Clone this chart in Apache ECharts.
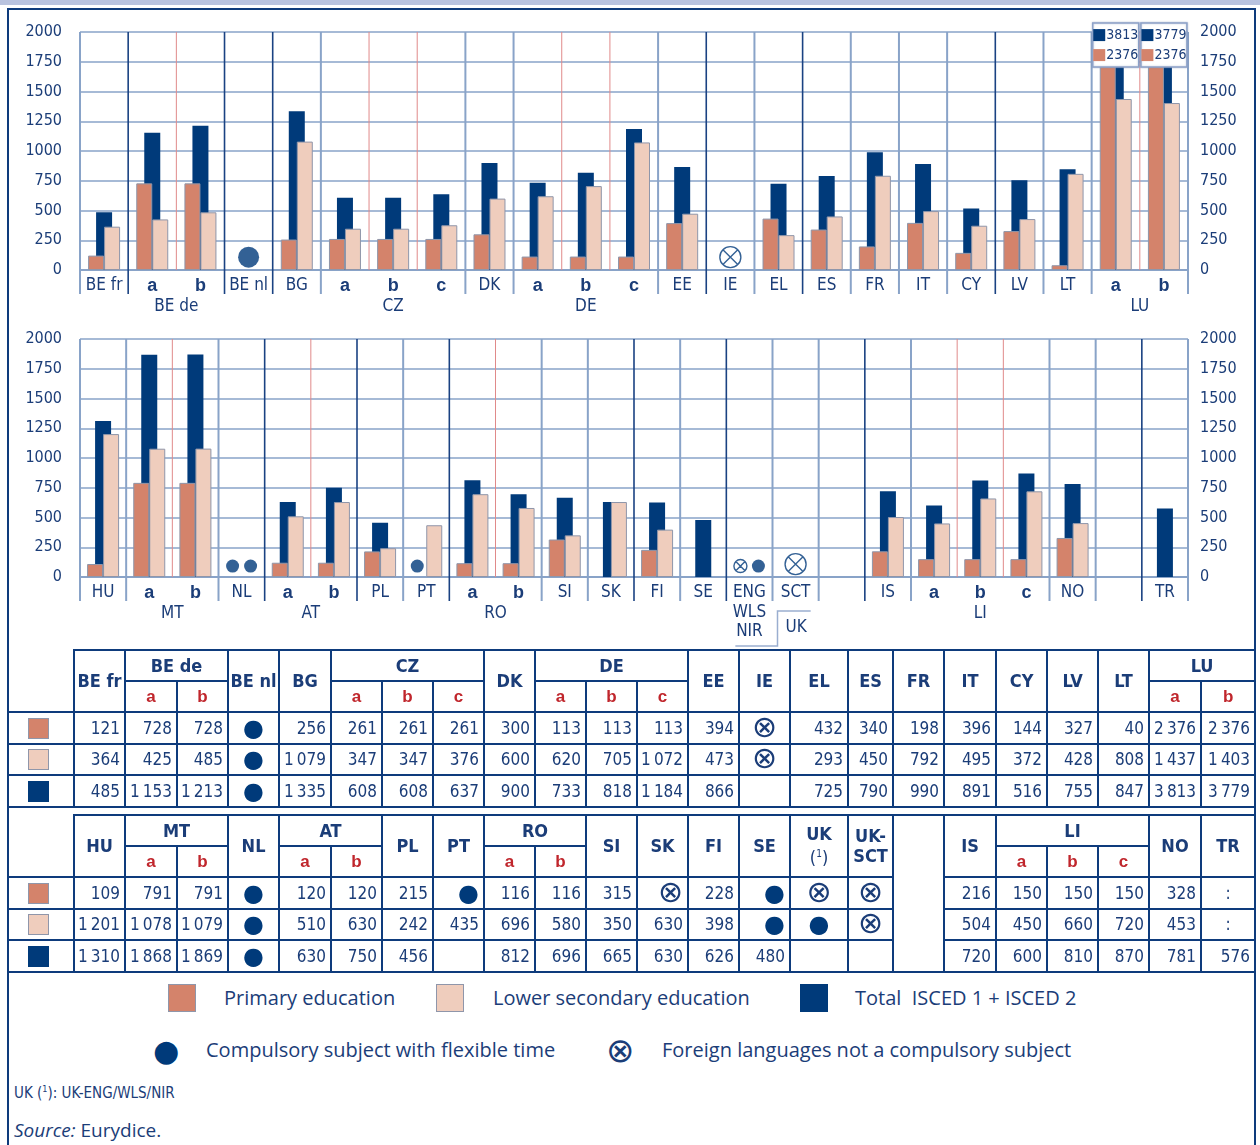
<!DOCTYPE html>
<html><head><meta charset="utf-8">
<script src="https://cdn.jsdelivr.net/npm/echarts@6/dist/echarts.min.js"></script>
<style>
html,body{margin:0;padding:0;background:#fff;}
#page{position:relative;width:1260px;height:1145px;overflow:hidden;color:#1b3d78;}
#topband{position:absolute;left:0;top:0;width:1260px;height:5px;background:#b9c3df;}
#frame{position:absolute;left:7px;top:8px;width:1245px;height:1200px;border:2px solid #0e3b7c;}
#chart{position:absolute;left:0;top:0;width:1260px;height:650px;}
table.dt{position:absolute;left:7px;border-collapse:collapse;table-layout:fixed;width:1248px;}
table.dt th,table.dt td{border:2px solid #0e3b7c;padding:0;font-family:'Liberation Sans Narrow','DejaVu Sans Condensed',sans-serif;color:#1b3d78;overflow:hidden;white-space:nowrap;}
table.dt th{font-weight:bold;font-size:18px;text-align:center;line-height:20px;}
table.dt th.sub{color:#c0262c;font-family:'Liberation Sans',sans-serif;font-size:17px;}
table.dt th.icon{border-top:none;border-left:none;}
table.dt td.icon{border-left:none;text-align:center;}
table.dt td{font-size:17px;text-align:right;padding-right:4px;}
table.dt td.c{text-align:center;padding-right:0;}
table.dt td.gap{padding:0;}
table.dt tr.h1{height:31px;} table.dt tr.h2{height:31px;} table.dt tr.d{height:31.5px;}
.fnm{font-weight:normal;}
.sq{display:inline-block;width:21px;height:21px;vertical-align:middle;box-sizing:border-box;}
.sq.p{background:#d4836b;border:1.5px solid #8f96aa;}
.sq.s{background:#efcdbd;border:1.5px solid #8f96aa;}
.sq.t{background:#003a7a;}
.dot{font-family:'DejaVu Sans',sans-serif;font-size:24px;line-height:1;color:#003a7a;vertical-align:-2px;}
.otimes{display:inline-block;font-family:'DejaVu Sans',sans-serif;font-size:30px;line-height:20px;height:22px;color:#1b3d78;font-weight:normal;vertical-align:middle;}
.lg{position:absolute;font-family:'Open Sans','Noto Sans',sans-serif;font-size:20px;color:#1b3d78;white-space:pre;line-height:24px;}
.lsq{position:absolute;width:28px;height:28px;box-sizing:border-box;}
#fn{position:absolute;left:14px;top:1084px;font-family:'Liberation Sans Narrow','DejaVu Sans Condensed',sans-serif;font-size:15px;color:#1b3d78;}
#src{position:absolute;left:14px;top:1117px;font-family:'Open Sans','Noto Sans',sans-serif;font-size:19px;color:#1b3d78;}
</style></head>
<body>
<div id="page">
  <div id="topband"></div>
  <div id="frame"></div>
  <div id="chart"></div>
  <table class="dt" id="t1" style="top:649px"></table>
  <table class="dt" id="t2" style="top:814px"></table>
  <div class="lsq" style="left:168px;top:984px;background:#d4836b;border:1.5px solid #8f96aa"></div>
  <div class="lg" style="left:224px;top:986px">Primary education</div>
  <div class="lsq" style="left:436px;top:984px;background:#efcdbd;border:1.5px solid #8f96aa"></div>
  <div class="lg" style="left:493px;top:986px">Lower secondary education</div>
  <div class="lsq" style="left:800px;top:984px;background:#003a7a"></div>
  <div class="lg" style="left:855px;top:986px">Total  ISCED 1 + ISCED 2</div>
  <div class="lg" style="left:153px;top:1036px;font-family:'DejaVu Sans',sans-serif;font-size:30px;line-height:30px;color:#003a7a">●</div>
  <div class="lg" style="left:206px;top:1038px">Compulsory subject with flexible time</div>
  <div class="lg" style="left:606px;top:1033px;font-family:'DejaVu Sans',sans-serif;font-size:34px;line-height:34px">⊗</div>
  <div class="lg" style="left:662px;top:1038px">Foreign languages not a compulsory subject</div>
  <div id="fn">UK (<sup style="font-size:9px">1</sup>): UK-ENG/WLS/NIR</div>
  <div id="src"><i>Source:</i> Eurydice.</div>
</div>
<script>
// ---------------- DATA ----------------
const catsTop = ['BE fr','BE de|a','BE de|b','BE nl','BG','CZ|a','CZ|b','CZ|c','DK','DE|a','DE|b','DE|c','EE','IE','EL','ES','FR','IT','CY','LV','LT','LU|a','LU|b'];
const primaryTop   = [121,728,728,'F',256,261,261,261,300,113,113,113,394,'X',432,340,198,396,144,327,40,2376,2376];
const secondaryTop = [364,425,485,'F',1079,347,347,376,600,620,705,1072,473,'X',293,450,792,495,372,428,808,1437,1403];
const totalTop     = [485,1153,1213,'F',1335,608,608,637,900,733,818,1184,866,'',725,790,990,891,516,755,847,3813,3779];

const catsBot = ['HU','MT|a','MT|b','NL','AT|a','AT|b','PL','PT','RO|a','RO|b','SI','SK','FI','SE','UK-ENG','UK-SCT','gap1','IS','LI|a','LI|b','LI|c','NO','gap2','TR'];
const primaryBot   = [109,791,791,'F',120,120,215,'F',116,116,315,'X',228,'F','X','X',null,216,150,150,150,328,null,':'];
const secondaryBot = [1201,1078,1079,'F',510,630,242,435,696,580,350,630,398,'F','F','X',null,504,450,660,720,453,null,':'];
const totalBot     = [1310,1868,1869,'F',630,750,456,'',812,696,665,630,626,480,'','',null,720,600,810,870,781,null,576];

// chart markers: [category, slot]  (p = primary, s = secondary, c = whole)
const flexTop = [['BE nl','c']];
const notCompTop = [['IE','c']];
const flexBot = [['NL','p'],['NL','s'],['PT','p'],['UK-ENG','s']];
const notCompBot = [['UK-ENG','p'],['UK-SCT','c']];

const yTicks = {min:0, max:2000, interval:250};
const seriesNames = ['Primary education','Total  ISCED 1 + ISCED 2','Lower secondary education'];

// ---------------- STYLE ----------------
const NAVY='#003a7a', PRIM='#d4836b', SEC='#efcdbd', GRIDC='#89a3c8', TXT='#1b3d78';
const NARROW="'Liberation Sans Narrow','DejaVu Sans Condensed',sans-serif";
const chartLabel = {'UK-ENG':'ENG\nWLS\nNIR','UK-SCT':'SCT'};
const tableLabel = {'UK-ENG':'UK<br><span class="fnm">(<sup style="font-size:10px">1</sup>)</span>','UK-SCT':'UK-<br>SCT'};
const navyBounds = [[1,3,4,13,15,19],[4,6,8,12,14,17,23]];
const OTIMES='path://M10,0A10,10,0,1,1,10,20A10,10,0,1,1,10,0ZM2.93,2.93L17.07,17.07M17.07,2.93L2.93,17.07';

function isNum(v){return typeof v==='number';}
function groupOf(c){return c.indexOf('|')>=0?c.split('|')[0]:null;}
function subOf(c){return c.indexOf('|')>=0?c.split('|')[1]:null;}

function boundaries(cats, navySet){
  const out=[];
  for(let i=0;i<=cats.length;i++){
    let kind=0;
    if(i>0&&i<cats.length&&groupOf(cats[i-1])&&groupOf(cats[i-1])===groupOf(cats[i])) kind=2;
    else if(navySet.indexOf(i)>=0) kind=1;
    out.push([i,kind]);
  }
  return out;
}
function groupsOf(cats){
  const out=[];let i=0;
  while(i<cats.length){
    const g=groupOf(cats[i]);
    if(g){let j=i;while(j+1<cats.length&&groupOf(cats[j+1])===g)j++;out.push({name:g,value:[i,j]});i=j+1;}else i++;
  }
  return out;
}

const chart = echarts.init(document.getElementById('chart'));
const grids=[{top:32,height:238,left:80,width:1108},{top:339,height:238,left:80,width:1108}];
const xAxes=[], yAxes=[], series=[];
const sets=[
  {cats:catsTop,prim:primaryTop,sec:secondaryTop,tot:totalTop,flex:flexTop,notc:notCompTop},
  {cats:catsBot,prim:primaryBot,sec:secondaryBot,tot:totalBot,flex:flexBot,notc:notCompBot}
];
sets.forEach((S,g)=>{
  const n=S.cats.length;
  xAxes.push({gridIndex:g,type:'category',data:S.cats,boundaryGap:true,
    axisLine:{lineStyle:{color:GRIDC,width:2}},axisTick:{show:false},splitLine:{show:false},
    axisLabel:{interval:0,margin:6,color:TXT,
      formatter:v=>{ if(v.indexOf('gap')===0) return ''; const s=subOf(v); if(s) return '{s|'+s+'}';
        return (chartLabel[v]||v).split('\n').map(l=>'{m|'+l+'}').join('\n'); },
      rich:{m:{fontSize:17,fontFamily:NARROW,color:TXT,lineHeight:19.5},
            s:{fontSize:18,fontWeight:'bold',fontFamily:"'Liberation Sans',sans-serif",color:TXT,lineHeight:19.5}}}});
  yAxes.push({gridIndex:g,type:'value',position:'left',min:yTicks.min,max:yTicks.max,interval:yTicks.interval,
    axisLine:{show:false},axisTick:{show:false},
    axisLabel:{color:TXT,fontSize:16,fontFamily:NARROW,margin:18,formatter:v=>String(v)},
    splitLine:{lineStyle:{color:GRIDC,width:1.5}}});
  yAxes.push({gridIndex:g,type:'value',position:'right',min:yTicks.min,max:yTicks.max,interval:yTicks.interval,
    axisLine:{show:false},axisTick:{show:false},
    axisLabel:{color:TXT,fontSize:16,fontFamily:NARROW,margin:12,formatter:v=>String(v)},splitLine:{show:false}});
  const common={type:'bar',xAxisIndex:g,yAxisIndex:2*g,barWidth:16,barGap:'-50%'};
  series.push(Object.assign({},common,{name:seriesNames[0],z:3,data:S.prim.map(v=>isNum(v)?v:'-'),
    itemStyle:{color:PRIM,borderColor:'#8f96aa',borderWidth:1}}));
  const totSeries=Object.assign({},common,{name:seriesNames[1],z:2,data:S.tot.map(v=>isNum(v)?v:'-'),
    itemStyle:{color:NAVY}});
  const over=[];S.tot.forEach((v,i)=>{if(isNum(v)&&v>yTicks.max)over.push(i);});
  if(over.length){
    totSeries.markPoint={z:10,symbol:'rect',symbolSize:[46,44],
      itemStyle:{color:'#fff',borderColor:'#8ea3c9',borderWidth:1.5,shadowColor:'rgba(120,140,180,0.5)',shadowBlur:2},
      label:{show:true,position:'inside',
        rich:{n:{width:12,height:12,backgroundColor:NAVY},o:{width:12,height:12,backgroundColor:PRIM},
              t:{fontSize:14,fontFamily:NARROW,color:TXT,lineHeight:20,padding:[0,0,0,1]}}},
      data:over.map(i=>({coord:[S.cats[i],1890],value:S.tot[i],
        label:{formatter:'{n| }{t|'+S.tot[i]+'}\n{o| }{t|'+S.prim[i]+'}'}}))};
  }
  series.push(totSeries);
  series.push(Object.assign({},common,{name:seriesNames[2],z:3,data:S.sec.map(v=>isNum(v)?v:'-'),
    itemStyle:{color:SEC,borderColor:'#8f96aa',borderWidth:1}}));
  // separators
  series.push({type:'custom',xAxisIndex:g,yAxisIndex:2*g,z:1,silent:true,clip:false,
    data:boundaries(S.cats,navyBounds[g]),
    renderItem:(p,api)=>{
      const i=api.value(0),kind=api.value(1);
      const bw=api.size([1,0])[0];
      const c=api.coord([Math.min(i,n-1),0]);
      const x=i<n?c[0]-bw/2:c[0]+bw/2;
      const yTop=api.coord([0,yTicks.max])[1];
      const yB=kind===2?c[1]:c[1]+24;
      const color=kind===2?'#e08a8a':kind===1?'#1a4282':GRIDC;
      return {type:'line',shape:{x1:x,y1:yTop,x2:x,y2:yB},style:{stroke:color,lineWidth:kind===2?1:kind===1?1.6:2}};
    }});
  // group labels
  const grp=groupsOf(S.cats);
  series.push({type:'custom',xAxisIndex:g,yAxisIndex:2*g,z:1,silent:true,clip:false,
    data:grp.map(d=>d.value),
    renderItem:(p,api)=>{
      const a=api.coord([api.value(0),0]),b=api.coord([api.value(1),0]);
      return {type:'text',style:{text:grp[p.dataIndex].name,x:(a[0]+b[0])/2,y:a[1]+37,fill:TXT,
        fontSize:17,fontFamily:NARROW,align:'center',verticalAlign:'middle'}};
    }});
  // markers
  const mk=(list,symbol,style)=>list.map(([c,slot])=>({
    value:[S.cats.indexOf(c),slot==='c'?108:92],symbol:symbol,symbolSize:slot==='c'?21:13,
    symbolOffset:[slot==='p'?-9:slot==='s'?9:0,0],itemStyle:style}));
  series.push({type:'scatter',xAxisIndex:g,yAxisIndex:2*g,z:4,silent:true,
    data:mk(S.flex,'circle',{color:NAVY}).concat(mk(S.notc,OTIMES,{color:'rgba(0,0,0,0)',borderColor:NAVY,borderWidth:1.4}))});
});
// UK bracket (bottom chart)
const ukI=catsBot.indexOf('UK-ENG'), ukJ=catsBot.indexOf('UK-SCT');
series.push({type:'custom',xAxisIndex:1,yAxisIndex:2,z:1,silent:true,clip:false,data:[[ukI,ukJ]],
  renderItem:(p,api)=>{
    const bw=api.size([1,0])[0];
    const a=api.coord([api.value(0),0]),b=api.coord([api.value(1),0]);
    const y0=a[1],xL=a[0]-bw/2+9,xM=a[0]+bw/2+5,xR=b[0]+bw/2-8;
    return {type:'group',children:[
      {type:'polyline',shape:{points:[[xL,y0+69],[xM,y0+69],[xM,y0+34],[xR,y0+34]]},style:{stroke:'#9aaed0',lineWidth:1.5,fill:null}},
      {type:'text',style:{text:'UK',x:xM+8,y:y0+51,fill:TXT,fontSize:17,fontFamily:NARROW,align:'left',verticalAlign:'middle'}}
    ]};
  }});

chart.setOption({animation:false,grid:grids,xAxis:xAxes,yAxis:yAxes,series:series});

// ---------------- TABLES ----------------
const colWidths=[67,51,52,51,51,52,51,51,51,51,51,51,51,51,51,58,45,51,52,51,51,51,52,54];
function fmt(v){
  if(isNum(v)) return v>=1000?String(v).replace(/\B(?=(\d{3})+(?!\d))/g,'\u2009'):String(v);
  if(v==='F') return '<span class="dot">●</span>';
  if(v==='X') return '<span class="otimes">⊗</span>';
  if(v===':') return ':';
  return '';
}
function buildTable(el,cats,rows){
  let h='<colgroup>'+colWidths.map(w=>'<col style="width:'+w+'px">').join('')+'</colgroup>';
  h+='<tr class="h1"><th class="icon" rowspan="2"></th>';
  let r2='<tr class="h2">';
  cats.forEach((c,i)=>{
    const g=groupOf(c);
    if(c.indexOf('gap')===0){h+='<td class="gap" rowspan="5"></td>';return;}
    if(g){
      if(i===0||groupOf(cats[i-1])!==g){let k=1;while(i+k<cats.length&&groupOf(cats[i+k])===g)k++;h+='<th colspan="'+k+'">'+g+'</th>';}
      r2+='<th class="sub">'+subOf(c)+'</th>';
    } else h+='<th rowspan="2">'+(tableLabel[c]||c)+'</th>';
  });
  h+='</tr>'+r2+'</tr>';
  rows.forEach((row,ri)=>{
    h+='<tr class="d"><td class="icon"><span class="sq '+['p','s','t'][ri]+'"></span></td>';
    cats.forEach((c,i)=>{
      if(c.indexOf('gap')===0) return;
      const v=row[i];const col=rows.map(r=>r[i]);
      const center=!isNum(v)&&(v===':'||!col.some(isNum));
      h+='<td class="'+(center?'c':'')+'">'+fmt(v)+'</td>';
    });
    h+='</tr>';
  });
  el.innerHTML=h;
}
buildTable(document.getElementById('t1'),catsTop,[primaryTop,secondaryTop,totalTop]);
const keepBot=catsBot.map((c,i)=>i).filter(i=>catsBot[i]!=='gap2');
buildTable(document.getElementById('t2'),keepBot.map(i=>catsBot[i]),
  [primaryBot,secondaryBot,totalBot].map(a=>keepBot.map(i=>a[i])));
</script>
</body></html>
